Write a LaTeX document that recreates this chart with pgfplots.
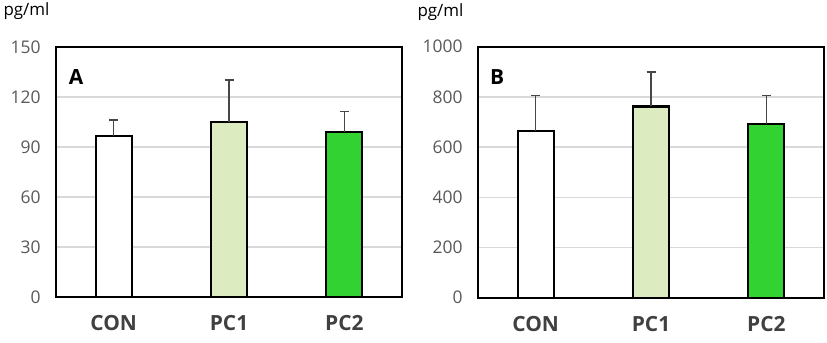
\documentclass[border=0pt]{standalone}
\usepackage{pgfplots}
\pgfplotsset{compat=1.18}
\usepackage{fontspec}
\setmainfont{Open Sans}
\definecolor{tickgray}{RGB}{89,89,89}
\definecolor{catgray}{RGB}{64,64,64}
\definecolor{gridgray}{RGB}{217,217,217}
\definecolor{errgray}{RGB}{70,70,70}
\definecolor{palegreen}{RGB}{220,236,192}
\definecolor{brightgreen}{RGB}{51,210,51}
\pgfplotsset{
  panel/.style={
    scale only axis,
    width=346bp,
    ybar, bar width=36bp,
    xmin=-0.5, xmax=2.5,
    xtick={0,1,2},
    xticklabels={CON,PC1,PC2},
    xticklabel style={font=\fontsize{21}{23}\selectfont\bfseries, text=catgray, yshift=-15bp},
    yticklabel style={font=\fontsize{17.5}{19}\selectfont, text=tickgray, xshift=-12bp},
    /pgf/number format/assume math mode=true,
    /pgf/number format/1000 sep={},
    major tick length=0pt,
    ymajorgrids, grid style={gridgray, line width=1.3pt},
    axis line style={black, line width=2.4pt},
    ymin=0,
    error bars/y dir=plus,
    error bars/y explicit,
    error bars/error bar style={errgray, line width=1.5pt},
    error bars/error mark options={rotate=90, errgray, mark size=4.5bp, line width=1.5pt},
  },
  bar/.style={draw=black, line width=2.2pt, bar shift=0pt},
}
\begin{document}
\begin{tikzpicture}
\useasboundingbox (0,0) rectangle (827bp,343bp);
% Panel A
\begin{axis}[panel, at={(56bp,46bp)}, anchor=south west, height=250bp,
  ymax=150, ytick={0,30,60,90,120,150}]
\addplot[bar, fill=white] coordinates {(0,96.4) +- (0,9.8)};
\addplot[bar, fill=palegreen] coordinates {(1,105.2) +- (0,25)};
\addplot[bar, fill=brightgreen] coordinates {(2,98.8) +- (0,12.4)};
\node[font=\fontsize{21}{23}\selectfont\bfseries, anchor=center] at (rel axis cs:0.058,0.88) {A};
\end{axis}
\node[font=\fontsize{17}{19}\selectfont, anchor=west, text=black] at (0bp,332bp) {pg/ml};
% Panel B
\begin{axis}[panel, at={(478bp,45.3bp)}, anchor=south west, height=251bp,
  ymax=1000, ytick={0,200,400,600,800,1000}]
\addplot[bar, fill=white] coordinates {(0,663) +- (0,142)};
\addplot[bar, fill=palegreen] coordinates {(1,762) +- (0,138)};
\addplot[bar, fill=brightgreen] coordinates {(2,691) +- (0,114)};
\node[font=\fontsize{21}{23}\selectfont\bfseries, anchor=center] at (rel axis cs:0.055,0.88) {B};
\end{axis}
\node[font=\fontsize{17}{19}\selectfont, anchor=west, text=black] at (414bp,331bp) {pg/ml};
\end{tikzpicture}
\end{document}
